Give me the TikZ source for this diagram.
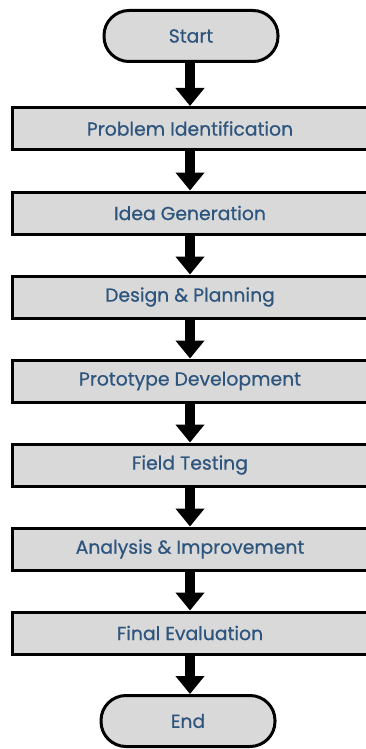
\documentclass[tikz,border=0pt]{standalone}
\usepackage{fontspec}
\newfontfamily\labelfont{Poppins}[FakeBold=0.7]
\usetikzlibrary{arrows.meta}
\definecolor{boxfill}{RGB}{217,217,217}
\definecolor{txt}{RGB}{45,85,125}
\begin{document}
\begin{tikzpicture}[x=1pt,y=-1pt,
  stepbox/.style={draw=black, line width=3pt, fill=boxfill, minimum width=355pt, minimum height=42pt, inner sep=0pt, font=\labelfont\fontsize{18.8}{21}\selectfont, text=txt},
  term/.style={draw=black, line width=3pt, fill=boxfill, rounded corners=25pt, minimum width=174pt, minimum height=51pt, inner sep=0pt, font=\labelfont\fontsize{18.8}{21}\selectfont, text=txt},
  flow/.style={line width=10pt, -{Triangle[width=28pt,length=18pt]}}]
\useasboundingbox (0,0) rectangle (365,749);
\node[term] (start) at (191,36) {Start};
\node[stepbox] (b1) at (190,128.5) {Problem Identification};
\node[stepbox] (b2) at (190,213) {Idea Generation};
\node[stepbox] (b3) at (190,297) {Design \& Planning};
\node[stepbox] (b4) at (190,381) {Prototype Development};
\node[stepbox] (b5) at (190,465) {Field Testing};
\node[stepbox] (b6) at (190,549) {Analysis \& Improvement};
\node[stepbox] (b7) at (190,633) {Final Evaluation};
\node[term] (end) at (188,721) {End};
\draw[flow] (start.south -| b1.north) -- (b1.north);
\draw[flow] (b1) -- (b2);
\draw[flow] (b2) -- (b3);
\draw[flow] (b3) -- (b4);
\draw[flow] (b4) -- (b5);
\draw[flow] (b5) -- (b6);
\draw[flow] (b6) -- (b7);
\draw[flow] (b7.south) -- (b7.south |- end.north);
\end{tikzpicture}
\end{document}
